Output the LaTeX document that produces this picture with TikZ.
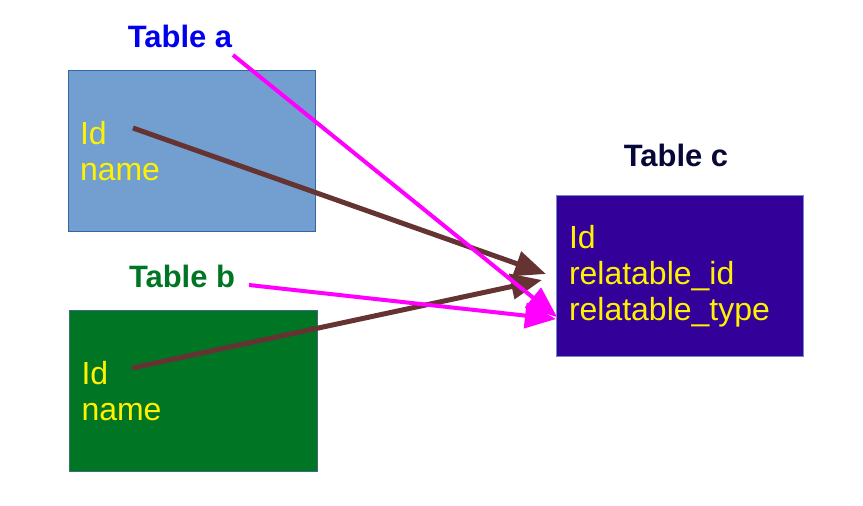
\documentclass[tikz,border=0pt]{standalone}
\usepackage{fontspec}
\setmainfont{Liberation Sans}
\usetikzlibrary{arrows.meta}
\definecolor{skyA}{RGB}{114,159,207}
\definecolor{skyAline}{RGB}{52,101,164}
\definecolor{greenB}{RGB}{0,117,36}
\definecolor{greenBline}{RGB}{60,110,120}
\definecolor{violetC}{RGB}{51,0,153}
\definecolor{violetCline}{RGB}{110,140,200}
\definecolor{titleAcol}{RGB}{0,0,238}
\definecolor{titleBcol}{RGB}{0,117,36}
\definecolor{titleCcol}{RGB}{8,8,56}
\definecolor{linkbrown}{RGB}{102,51,51}
\definecolor{linkpink}{RGB}{255,0,255}
\tikzset{
  tablebox/.style={rectangle, minimum width=4.96cm, minimum height=3.24cm, inner xsep=0.24cm,
    text width=4.48cm, align=left, text=yellow, line width=0.02cm,
    font=\fontsize{18.2}{20.5}\selectfont},
  tabletitle/.style={anchor=base, inner sep=0pt, font=\fontsize{17.6}{19}\selectfont\bfseries},
  fklink/.style={linkbrown, line width=0.1cm, -{Triangle[length=0.62cm,width=0.5cm]}},
  polylink/.style={linkpink, line width=0.08cm, -{Triangle[length=0.62cm,width=0.5cm]}}
}
\begin{document}
\begin{tikzpicture}[x=0.02cm,y=-0.02cm]
    \useasboundingbox (0,0) rectangle (863,505);
    % Tablas
    \node[tablebox, fill=skyA, draw=skyAline] (boxA) at (192,151) {Id\\name};
    \node[tablebox, fill=greenB, draw=greenBline] (boxB) at (193.5,391) {Id\\name};
    \node[tablebox, fill=violetC, draw=violetCline, inner xsep=0.26cm, text width=4.44cm] (boxC) at (680,276)
        {Id\\relatable\_id\\relatable\_type};
    % Titulos
    \node[tabletitle, text=titleAcol] (titleA) at (180,47) {Table a};
    \node[tabletitle, text=titleBcol] (titleB) at (182,287) {Table b};
    \node[tabletitle, text=titleCcol] (titleC) at (676,166) {Table c};
    % Extremos
    \coordinate (aId) at (133,128);
    \coordinate (bId) at (132,368);
    \coordinate (aTail) at (233,55);
    \coordinate (bTail) at (249,285);
    \coordinate (cIdIn) at (546,274);
    \coordinate (cIdIn2) at (542,280);
    \coordinate (cTypeIn) at (557,317);
    \coordinate (cTypeIn2) at (556,319);
    % Flechas
    \draw[fklink] (aId) -- (cIdIn);
    \draw[fklink] (bId) -- (cIdIn2);
    \draw[polylink] (aTail) -- (cTypeIn);
    \draw[polylink] (bTail) -- (cTypeIn2);
\end{tikzpicture}
\end{document}
